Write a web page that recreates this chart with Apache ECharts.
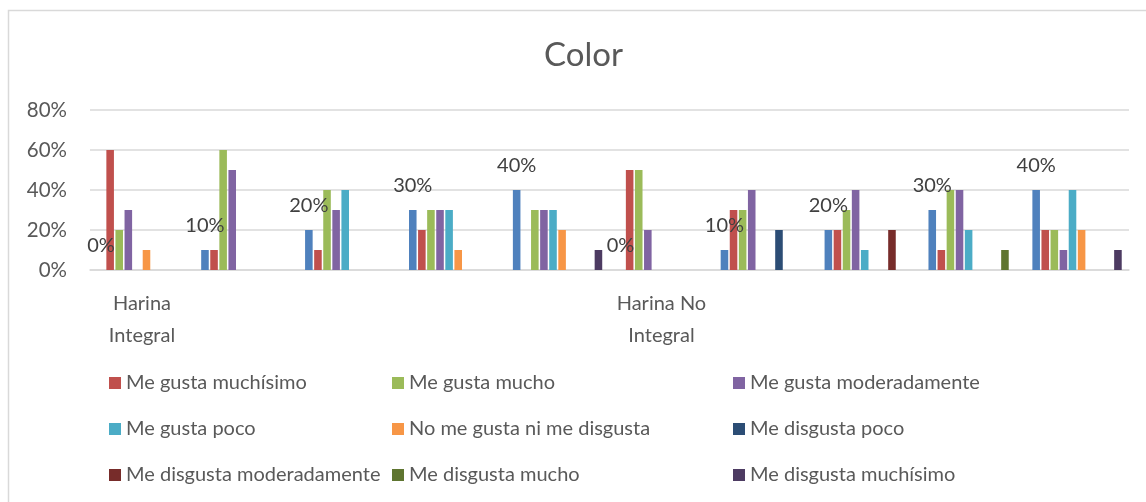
<!DOCTYPE html>
<html>
<head>
<meta charset="utf-8">
<title>Color</title>
<script src="https://cdn.jsdelivr.net/npm/echarts@6/dist/echarts.min.js"></script>
<style>
  html, body { margin: 0; padding: 0; background: #fff; }
  #chart { width: 1146px; height: 502px; }
</style>
</head>
<body>
<div id="chart"></div>
<script>
// categories (only first of each block carries a name)
const categories = ["Harina\nIntegral", "", "", "", "", "Harina No\nIntegral", "", "", "", ""];

// first (blue) series is the percentage column, labelled but not in legend
const porcentaje = [0, 10, 20, 30, 40, 0, 10, 20, 30, 40];
const gustaMuchisimo = [60, 10, 10, 20, 0, 50, 30, 20, 10, 20];
const gustaMucho = [20, 60, 40, 30, 30, 50, 30, 30, 40, 20];
const gustaModerado = [30, 50, 30, 30, 30, 20, 40, 40, 40, 10];
const gustaPoco = [0, 0, 40, 30, 30, 0, 0, 10, 20, 40];
const niGustaNiDisgusta = [10, 0, 0, 10, 20, 0, 0, 0, 0, 20];
const disgustaPoco = [0, 0, 0, 0, 0, 0, 20, 0, 0, 0];
const disgustaModerado = [0, 0, 0, 0, 0, 0, 0, 20, 0, 0];
const disgustaMucho = [0, 0, 0, 0, 0, 0, 0, 0, 10, 0];
const disgustaMuchisimo = [0, 0, 0, 0, 10, 0, 0, 0, 0, 10];

const yTicks = [0, 20, 40, 60, 80];

const seriesDefs = [
  { name: "Porcentaje", data: porcentaje, color: "#4F81BD" },
  { name: "Me gusta muchísimo", data: gustaMuchisimo, color: "#C0504D" },
  { name: "Me gusta mucho", data: gustaMucho, color: "#9BBB59" },
  { name: "Me gusta moderadamente", data: gustaModerado, color: "#8064A2" },
  { name: "Me gusta poco", data: gustaPoco, color: "#4BACC6" },
  { name: "No me gusta ni me disgusta", data: niGustaNiDisgusta, color: "#F79646" },
  { name: "Me disgusta poco", data: disgustaPoco, color: "#2C4D75" },
  { name: "Me disgusta moderadamente", data: disgustaModerado, color: "#772C2A" },
  { name: "Me disgusta mucho", data: disgustaMucho, color: "#5F7530" },
  { name: "Me disgusta muchísimo", data: disgustaMuchisimo, color: "#4D3B62" },
];

const FONT = "Lato";
const textGray = "#595959";

const chart = echarts.init(document.getElementById("chart"));

const legendColumns = [
  ["Me gusta muchísimo", "Me gusta poco", "Me disgusta moderadamente"],
  ["Me gusta mucho", "No me gusta ni me disgusta", "Me disgusta mucho"],
  ["Me gusta moderadamente", "Me disgusta poco", "Me disgusta muchísimo"],
];
const legendLeft = [109, 392, 733];

const option = {
  animation: false,
  textStyle: { fontFamily: FONT },
  title: {
    text: "Color",
    left: 539,
    top: 34,
    textStyle: { fontFamily: FONT, fontSize: 33, fontWeight: "normal", color: textGray },
  },
  graphic: [
    {
      type: "rect",
      shape: { x: 8.5, y: 10.5, width: 1160, height: 520 },
      style: { fill: "none", stroke: "#d9d9d9", lineWidth: 1.5 },
      silent: true,
    },
  ],
  legend: legendColumns.map((col, i) => ({
    data: col,
    orient: "vertical",
    left: legendLeft[i],
    top: 373,
    padding: 0,
    itemGap: 26,
    itemWidth: 12,
    itemHeight: 12,
    icon: "rect",
    selectedMode: false,
    textStyle: { fontFamily: FONT, fontSize: 20, color: textGray, lineHeight: 20 },
  })),
  grid: { left: 90, right: 17, top: 110, bottom: 232, containLabel: false },
  xAxis: {
    type: "category",
    data: categories,
    axisLine: { lineStyle: { color: "#d9d9d9", width: 1.5 } },
    axisTick: { show: false },
    axisLabel: {
      interval: 0,
      margin: 18,
      fontFamily: FONT,
      fontSize: 20,
      lineHeight: 32,
      color: textGray,
      align: "center",
    },
  },
  yAxis: {
    type: "value",
    min: yTicks[0],
    max: yTicks[yTicks.length - 1],
    interval: 20,
    axisLine: { show: false },
    axisTick: { show: false },
    splitLine: { lineStyle: { color: "#d9d9d9", width: 1.5 } },
    axisLabel: {
      formatter: "{value}%",
      margin: 23,
      fontFamily: FONT,
      fontSize: 20.5,
      color: textGray,
    },
  },
  series: seriesDefs.map((s, i) => ({
    name: s.name,
    type: "bar",
    data: s.data,
    barGap: "20%",
    barCategoryGap: "14%",
    itemStyle: { color: s.color },
    label: i === 0 ? {
      show: true,
      position: "top",
      distance: 14,
      formatter: "{c}%",
      fontFamily: FONT,
      fontSize: 20,
      lineHeight: 20,
      color: "#404040",
    } : { show: false },
  })),
};

option && chart.setOption(option);
</script>
</body>
</html>
